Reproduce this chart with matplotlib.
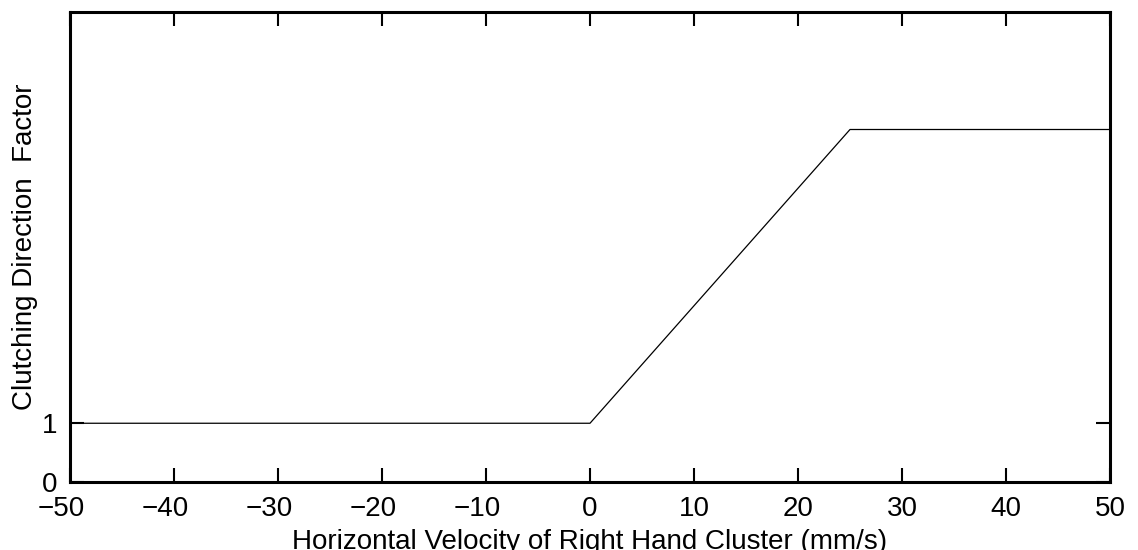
import numpy as np
import matplotlib.pyplot as plt
from matplotlib.transforms import ScaledTranslation

# clutching direction factor vs velocity
velocity = [-50, 0, 25, 50]
factor = [1, 1, 6, 6]
xticks = [-50, -40, -30, -20, -10, 0, 10, 20, 30, 40, 50]
yticks = [0, 1]

plt.rcParams['font.family'] = ['Liberation Sans', 'DejaVu Sans']

fig = plt.figure(figsize=(11.38, 5.5), dpi=100)
ax = fig.add_axes([70 / 1138, 1 - 482 / 550, 1040 / 1138, 470 / 550])

ax.plot(velocity, factor, color='black', linewidth=0.9)

ax.set_xlim(-50, 50)
ax.set_ylim(0, 8)
ax.set_xticks(xticks)
ax.set_xticklabels([str(v).replace('-', '\u2212') for v in xticks])
ax.set_yticks(yticks)

ax.tick_params(direction='in', length=10, width=1.5, labelsize=20,
               top=True, right=True)
ax.tick_params(axis='x', pad=10)
ax.tick_params(axis='y', pad=9)
for s in ax.spines.values():
    s.set_linewidth(2.2)

# matlab-style: digits centred on the tick, minus hangs left
shift = ScaledTranslation(-9 / 100, 0, fig.dpi_scale_trans)
for lab in ax.get_xticklabels():
    if lab.get_text().startswith('\u2212'):
        lab.set_transform(lab.get_transform() + shift)

ax.set_xlabel('Horizontal Velocity of Right Hand Cluster (mm/s)', fontsize=20, labelpad=5)
ax.set_ylabel('Clutching Direction  Factor', fontsize=20, labelpad=3)

fig.savefig('out.png', dpi=100)
